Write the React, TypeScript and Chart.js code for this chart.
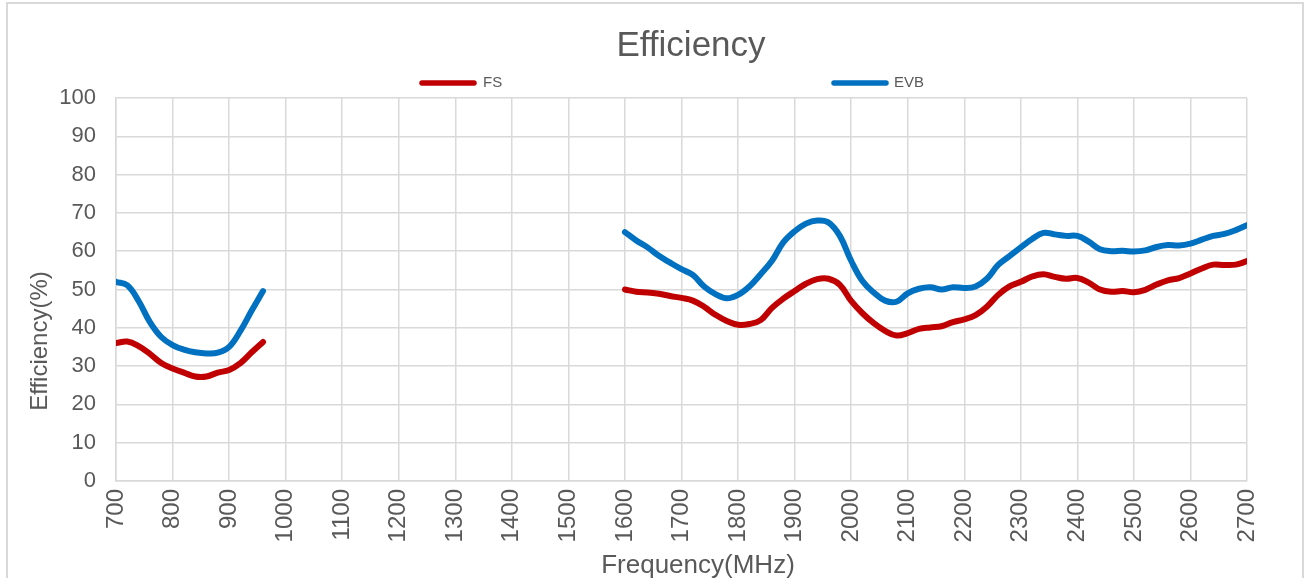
import React, { useEffect, useRef } from "react";
import { Chart, registerables } from "chart.js";

Chart.register(...registerables);

const TITLE = "Efficiency";
const X_TITLE = "Frequency(MHz)";
const Y_TITLE = "Efficiency(%)";

const lowFreq = [700, 720, 740, 760, 780, 800, 820, 840, 860, 880, 900, 920, 940, 960];
const highFreq = [
  1600, 1620, 1640, 1660, 1680, 1700, 1720, 1740, 1760, 1780, 1800, 1820, 1840, 1860, 1880, 1900, 1920, 1940, 1960, 1980,
  2000, 2020, 2040, 2060, 2080, 2100, 2120, 2140, 2160, 2180, 2200, 2220, 2240, 2260, 2280, 2300, 2320, 2340, 2360, 2380,
  2400, 2420, 2440, 2460, 2480, 2500, 2520, 2540, 2560, 2580, 2600, 2620, 2640, 2660, 2680, 2700,
];

const fsLow = [36.0, 36.4, 35.2, 33.2, 30.8, 29.4, 28.3, 27.3, 27.3, 28.3, 29.0, 30.8, 33.6, 36.3];
const evbLow = [52.0, 51.1, 47.0, 41.5, 37.6, 35.5, 34.3, 33.6, 33.3, 33.5, 35.0, 39.2, 44.5, 49.6];

const fsHigh = [
  50.0, 49.4, 49.2, 48.9, 48.3, 47.8, 47.1, 45.5, 43.4, 41.8, 40.8, 41.0, 42.0, 45.2, 47.6, 49.6, 51.5, 52.7, 52.8, 51.2,
  47.0, 43.8, 41.2, 39.2, 38.0, 38.6, 39.7, 40.1, 40.4, 41.5, 42.2, 43.3, 45.5, 48.6, 50.8, 52.0, 53.4, 54.0, 53.3, 52.8,
  53.0, 51.8, 50.0, 49.4, 49.6, 49.3, 49.9, 51.3, 52.4, 53.0, 54.2, 55.5, 56.5, 56.4, 56.5, 57.4,
];
const evbHigh = [
  65.0, 62.8, 61.0, 58.8, 57.0, 55.3, 53.8, 50.8, 48.8, 47.7, 48.6, 50.8, 54.0, 57.5, 62.3, 65.2, 67.2, 68.0, 67.5, 64.0,
  57.5, 52.2, 49.2, 47.1, 46.8, 49.0, 50.2, 50.6, 50.0, 50.6, 50.4, 50.8, 52.8, 56.4, 58.7, 61.0, 63.2, 64.8, 64.4, 64.0,
  64.0, 62.5, 60.5, 60.0, 60.1, 59.9, 60.2, 61.1, 61.6, 61.5, 62.0, 63.0, 64.0, 64.5, 65.5, 66.8,
];

const seriesNames = ["FS", "EVB"];
const seriesColors = ["#C00000", "#0070C0"];

const X_MIN = 700;
const X_MAX = 2700;
const X_STEP = 100;
const Y_MIN = 0;
const Y_MAX = 100;
const Y_STEP = 10;

function buildPoints(lf: number[], lv: number[], hf: number[], hv: number[]) {
  const pts: { x: number; y: number | null }[] = [];
  lf.forEach((f, i) => pts.push({ x: f, y: lv[i] }));
  pts.push({ x: (lf[lf.length - 1] + hf[0]) / 2, y: null });
  hf.forEach((f, i) => pts.push({ x: f, y: hv[i] }));
  return pts;
}

const TEXT_COLOR = "#595959";
const GRID_COLOR = "#d9d9d9";
const FONT = '"Liberation Sans", Arial, sans-serif';

const textPlugin = {
  id: "excelText",
  afterDraw(chart: any) {
    const ctx = chart.ctx as CanvasRenderingContext2D;
    ctx.save();
    ctx.fillStyle = TEXT_COLOR;
    ctx.textAlign = "center";
    ctx.textBaseline = "alphabetic";
    ctx.font = `35px ${FONT}`;
    ctx.fillText(TITLE, 691, 56);
    ctx.font = `26px ${FONT}`;
    ctx.fillText(X_TITLE, 698, 573);
    ctx.save();
    ctx.translate(40, 341);
    ctx.rotate(-Math.PI / 2);
    ctx.textBaseline = "middle";
    ctx.font = `24px ${FONT}`;
    ctx.fillText(Y_TITLE, 0, 0);
    ctx.restore();

    // legend
    const legendPos = [
      { x0: 422, x1: 474, tx: 483 },
      { x0: 834, x1: 886, tx: 894 },
    ];
    const ly = 83;
    chart.data.datasets.forEach((ds: any, i: number) => {
      const p = legendPos[i];
      ctx.beginPath();
      ctx.strokeStyle = ds.borderColor;
      ctx.lineWidth = 5.5;
      ctx.lineCap = "round";
      ctx.moveTo(p.x0, ly);
      ctx.lineTo(p.x1, ly);
      ctx.stroke();
      ctx.fillStyle = TEXT_COLOR;
      ctx.font = `15px ${FONT}`;
      ctx.textAlign = "left";
      ctx.textBaseline = "middle";
      ctx.fillText(ds.label, p.tx, ly);
    });
    ctx.restore();
  },
};

export default function App() {
  const ref = useRef<HTMLCanvasElement | null>(null);
  useEffect(() => {
    if (!ref.current) return;
    const chart = new Chart(ref.current, {
      type: "line",
      data: {
        datasets: [
          {
            label: seriesNames[0],
            data: buildPoints(lowFreq, fsLow, highFreq, fsHigh),
            borderColor: seriesColors[0],
            backgroundColor: seriesColors[0],
            borderWidth: 6,
            pointRadius: 0,
            tension: 0.4,
            borderCapStyle: "round",
            borderJoinStyle: "round",
            spanGaps: false,
          },
          {
            label: seriesNames[1],
            data: buildPoints(lowFreq, evbLow, highFreq, evbHigh),
            borderColor: seriesColors[1],
            backgroundColor: seriesColors[1],
            borderWidth: 6,
            pointRadius: 0,
            tension: 0.4,
            borderCapStyle: "round",
            borderJoinStyle: "round",
            spanGaps: false,
          },
        ],
      },
      options: {
        responsive: false,
        animation: false,
        layout: { padding: { left: 0, top: 98, right: 63, bottom: 0 } },
        plugins: {
          legend: { display: false },
          title: { display: false },
          tooltip: { enabled: false },
        },
        scales: {
          x: {
            type: "linear",
            min: X_MIN,
            max: X_MAX,
            afterFit: (s: any) => {
              s.height = 97;
            },
            ticks: {
              stepSize: X_STEP,
              autoSkip: false,
              maxRotation: 90,
              minRotation: 90,
              padding: 8,
              color: TEXT_COLOR,
              font: { family: FONT, size: 24 },
              callback: (v: any) => String(v),
            },
            grid: { color: GRID_COLOR, lineWidth: 1.5, drawTicks: false },
            border: { color: GRID_COLOR, width: 1.5 },
          },
          y: {
            min: Y_MIN,
            max: Y_MAX,
            afterFit: (s: any) => {
              s.width = 116;
            },
            ticks: {
              stepSize: Y_STEP,
              padding: 20,
              color: TEXT_COLOR,
              font: { family: FONT, size: 22 },
              callback: (v: any) => String(v),
            },
            grid: { color: GRID_COLOR, lineWidth: 1.5, drawTicks: false },
            border: { color: GRID_COLOR, width: 1.5 },
          },
        },
      },
      plugins: [textPlugin],
    });
    return () => chart.destroy();
  }, []);

  return (
    <div
      style={{
        position: "absolute",
        left: 0,
        top: 0,
        width: 1310,
        height: 578,
        overflow: "hidden",
        background: "#ffffff",
      }}
    >
      <div
        style={{
          position: "absolute",
          left: 6,
          top: 2,
          width: 1298,
          height: 620,
          border: "2px solid #d9d9d9",
          boxSizing: "border-box",
        }}
      />
      <canvas ref={ref} width={1310} height={578} style={{ position: "absolute", left: 0, top: 0, width: 1310, height: 578 }} />
    </div>
  );
}
